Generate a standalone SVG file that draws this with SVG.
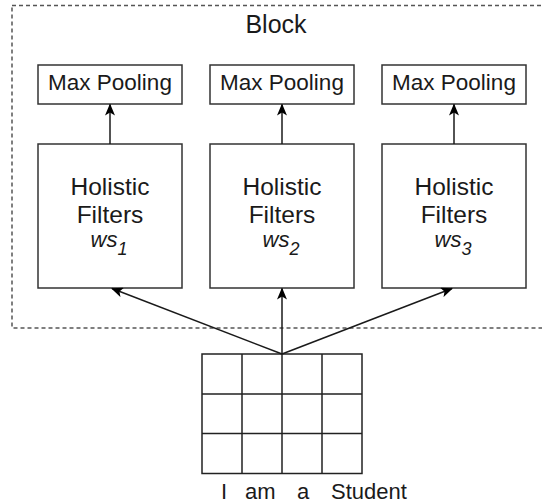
<svg xmlns="http://www.w3.org/2000/svg" width="542" height="504" viewBox="0 0 542 504">
<defs>
<marker id="arr" viewBox="0 0 12 10" refX="11" refY="5" markerWidth="12" markerHeight="10" markerUnits="userSpaceOnUse" orient="auto">
<path d="M0,0 L12,5 L0,10 L3,5 z" fill="#000"/>
</marker>
<style>
.box{fill:#fff;stroke:#333;stroke-width:1.5}
.t{font-family:"Liberation Sans",Arial,sans-serif;fill:#1a1a1a;text-anchor:middle}
.mp{font-size:22.5px}
.hf{font-size:24.5px}
.ws{font-size:22px;font-style:italic}
.edge{stroke:#1a1a1a;stroke-width:1.5;fill:none;marker-end:url(#arr)}
.grid{stroke:#222;stroke-width:1.5;fill:none}
</style>
</defs>
<rect fill="#fff" x="0" y="0" width="542" height="504"/>
<g id="block">
<rect x="12" y="5.5" width="545" height="322.5" fill="none" stroke="#555" stroke-width="1.5" stroke-dasharray="4 3"/>
<text class="t" style="font-size:25px" x="276" y="33">Block</text>
</g>
<g id="maxpool1"><rect class="box" x="38" y="65" width="144" height="39"/><text class="t mp" x="110" y="89.5">Max Pooling</text></g>
<g id="maxpool2"><rect class="box" x="210" y="65" width="144" height="39"/><text class="t mp" x="282" y="89.5">Max Pooling</text></g>
<g id="maxpool3"><rect class="box" x="382" y="65" width="144" height="39"/><text class="t mp" x="454" y="89.5">Max Pooling</text></g>
<g id="filters1"><rect class="box" x="38" y="144" width="144" height="144"/>
<text class="t hf" x="110" y="195">Holistic</text><text class="t hf" x="110" y="223">Filters</text>
<text class="t ws" x="109" y="247">ws<tspan font-size="18" dy="8">1</tspan></text></g>
<g id="filters2"><rect class="box" x="210" y="144" width="144" height="144"/>
<text class="t hf" x="282" y="195">Holistic</text><text class="t hf" x="282" y="223">Filters</text>
<text class="t ws" x="281" y="247">ws<tspan font-size="18" dy="8">2</tspan></text></g>
<g id="filters3"><rect class="box" x="382" y="144" width="144" height="144"/>
<text class="t hf" x="454" y="195">Holistic</text><text class="t hf" x="454" y="223">Filters</text>
<text class="t ws" x="453" y="247">ws<tspan font-size="18" dy="8">3</tspan></text></g>
<g id="input">
<rect class="grid" x="202" y="354" width="160" height="119.5"/>
<path class="grid" d="M242,354V473.5M282,354V473.5M322,354V473.5M202,394H362M202,433.5H362"/>
<text class="t" style="font-size:22px;text-anchor:start" y="499"><tspan x="221">I</tspan><tspan x="245">am</tspan><tspan x="297">a</tspan><tspan x="331">Student</tspan></text>
</g>
<g id="connectors">
<line class="edge" x1="110" y1="144" x2="110" y2="104.5"/>
<line class="edge" x1="282" y1="144" x2="282" y2="104.5"/>
<line class="edge" x1="454" y1="144" x2="454" y2="104.5"/>
<line class="edge" x1="282" y1="354" x2="112" y2="288.5"/>
<line class="edge" x1="282" y1="354" x2="282" y2="288.5"/>
<line class="edge" x1="282" y1="354" x2="452" y2="288.5"/>
</g>
</svg>
